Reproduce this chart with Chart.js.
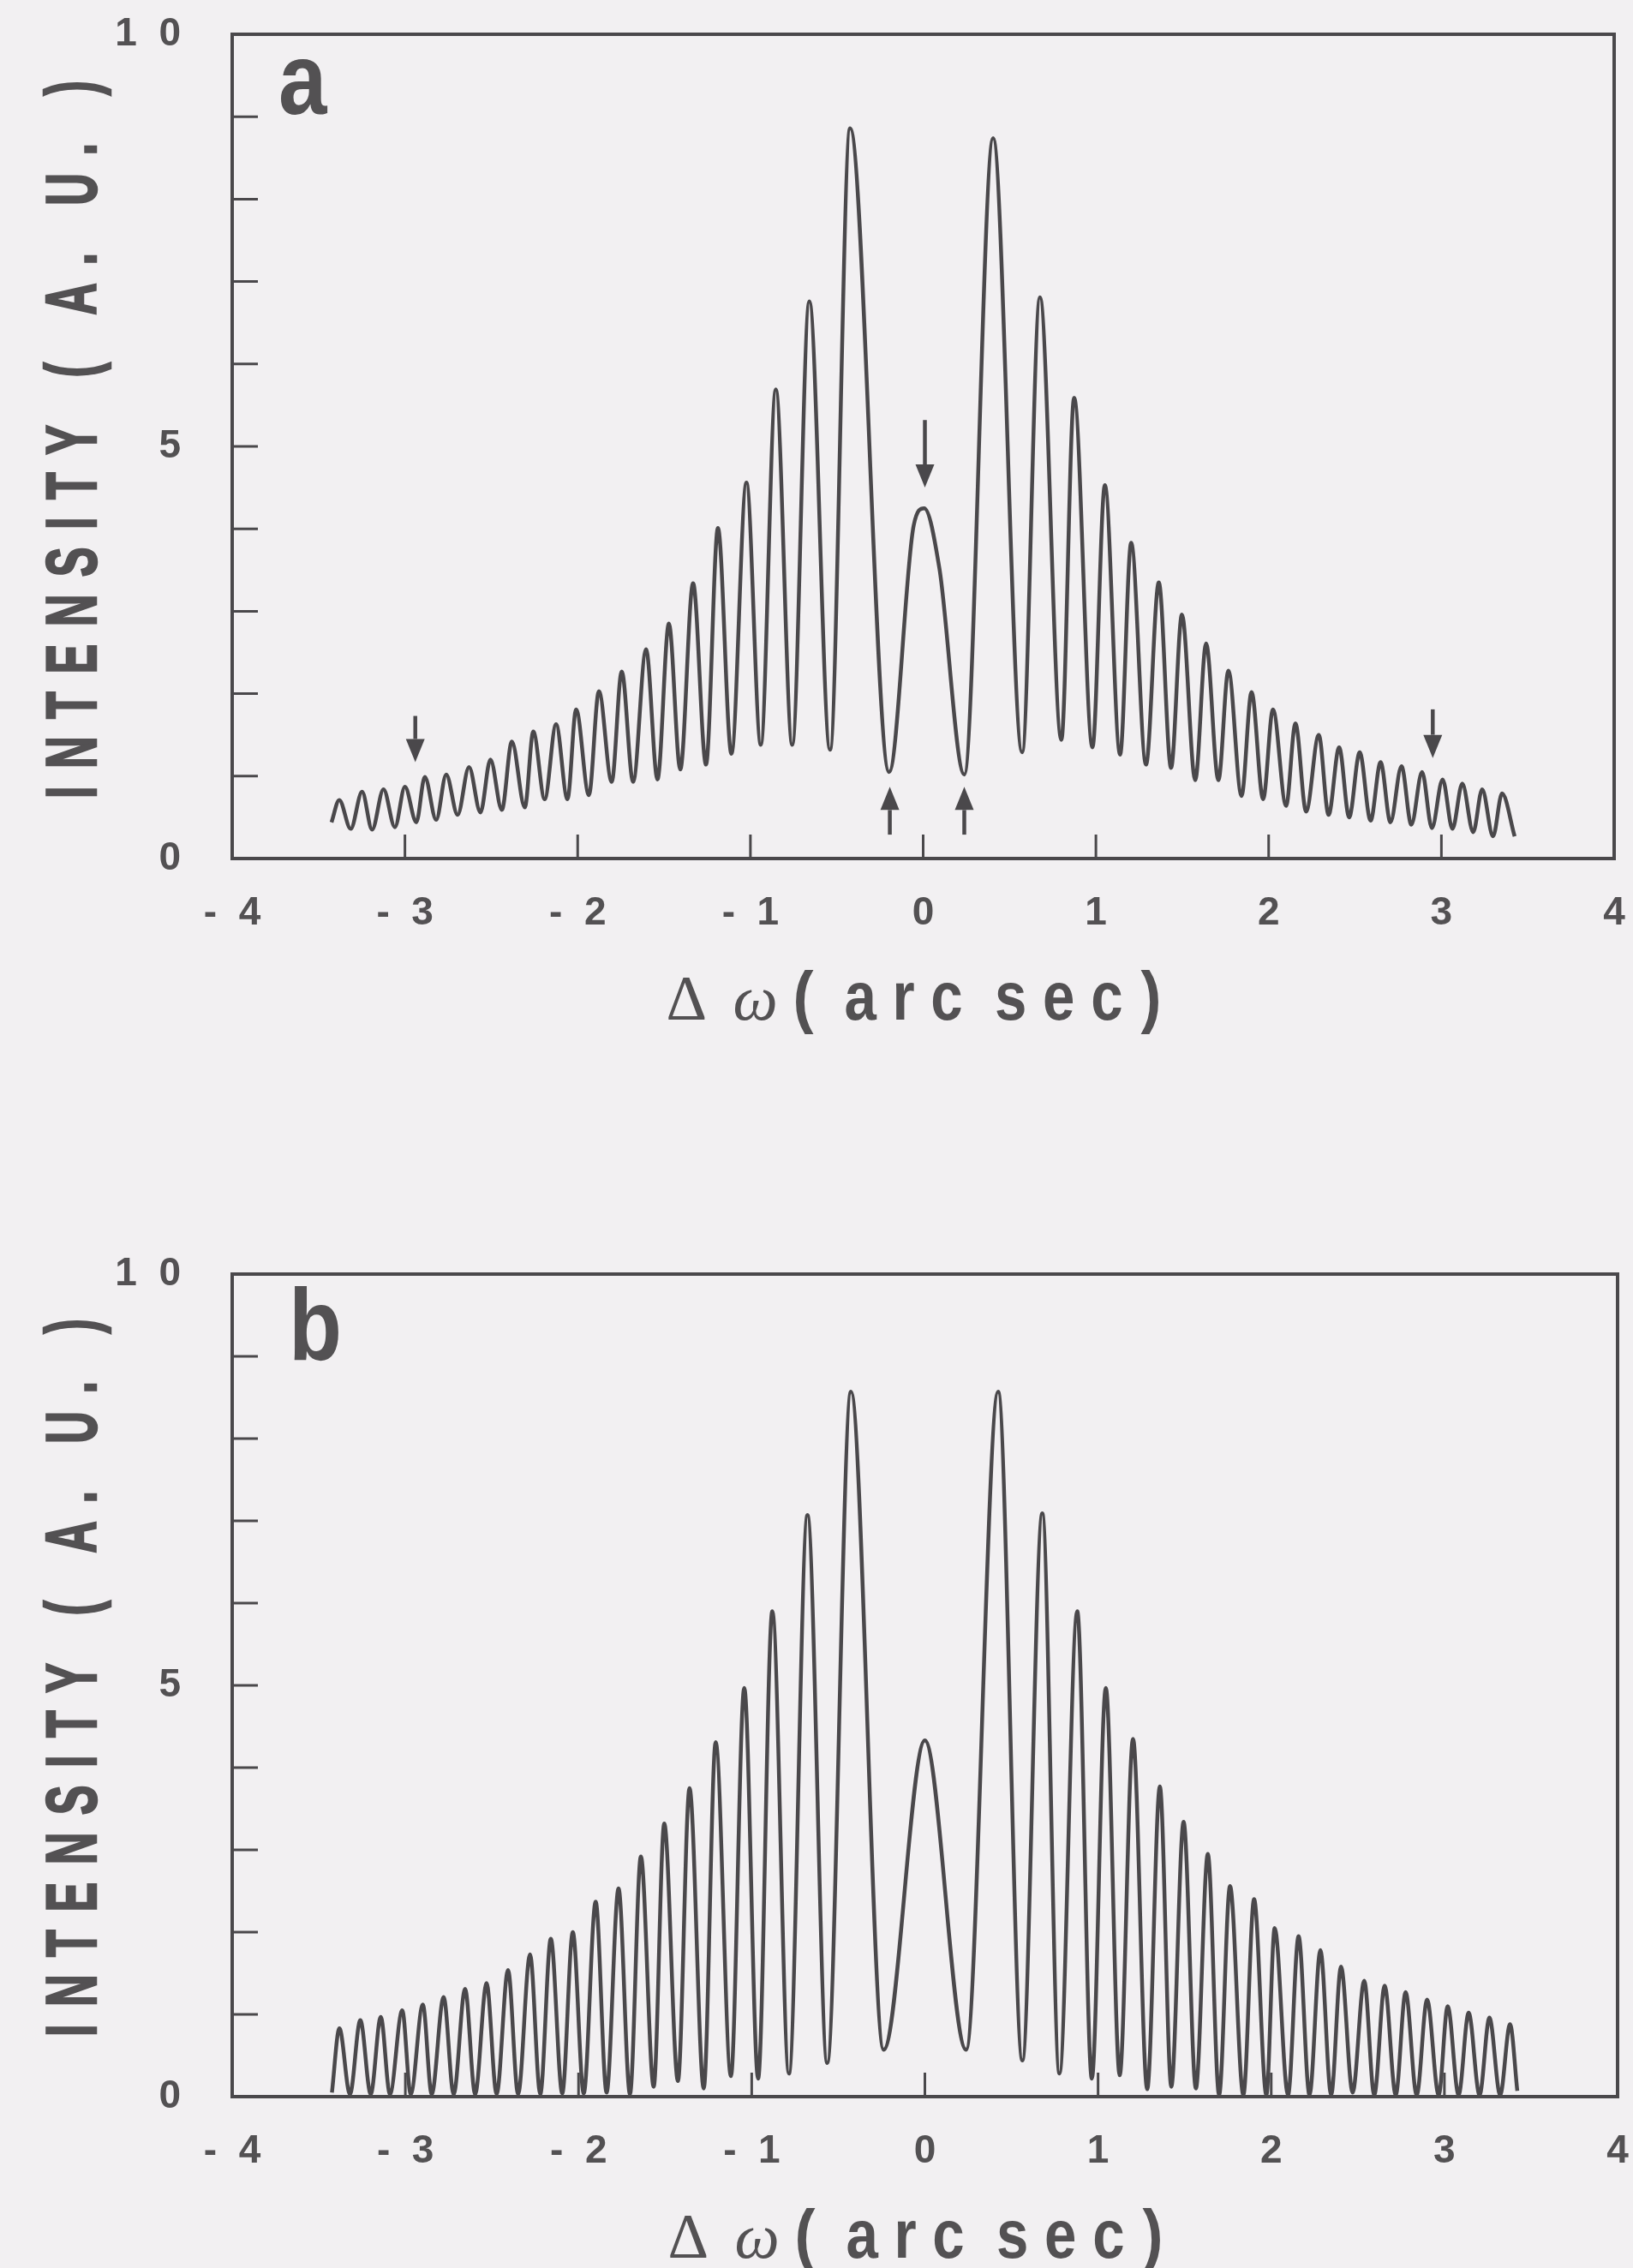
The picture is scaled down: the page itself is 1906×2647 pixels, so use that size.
<!DOCTYPE html>
<html>
<head>
<meta charset="utf-8">
<script src="https://cdn.jsdelivr.net/npm/chart.js@4.4.1/dist/chart.umd.min.js"></script>
<style>
  html, body { margin: 0; padding: 0; background: #f2f0f2; }
  body { width: 1906px; height: 2647px; position: relative; overflow: hidden; }
  .panel { position: absolute; left: 0; width: 1906px; }
  #wrapA { top: 0; height: 1260px; }
  #wrapB { top: 1260px; height: 1387px; }
</style>
</head>
<body>
<div class="panel" id="wrapA"><canvas id="chartA" width="1906" height="1260"></canvas></div>
<div class="panel" id="wrapB"><canvas id="chartB" width="1906" height="1387"></canvas></div>
<script>
// axis ticks
const xTickValues = [-4, -3, -2, -1, 0, 1, 2, 3, 4];
const xTickLabels = ['-  4', '-  3', '-  2', '-  1', '0', '1', '2', '3', '4'];
const yTickValues = [0, 5, 10];
const yTickLabels = ['0', '5', '1  0'];
const xTitleUnit = 'a r c  s e c';
const yTitle = 'INTENSITY ( A. U. )';

// panel a : maxima and minima, left to right
const aX = [-3.425, -3.380, -3.314, -3.248, -3.190, -3.124, -3.058, -3.000, -2.934, -2.885,
  -2.819, -2.761, -2.695, -2.629, -2.563, -2.505, -2.439, -2.381, -2.306, -2.257,
  -2.191, -2.125, -2.059, -2.009, -1.935, -1.877, -1.803, -1.745, -1.679, -1.604,
  -1.538, -1.472, -1.406, -1.332, -1.257, -1.188, -1.110, -1.023, -0.940, -0.853,
  -0.758, -0.659, -0.539, -0.423, -0.197, -0.055, 0.006, 0.094, 0.238, 0.405,
  0.573, 0.676, 0.800, 0.874, 0.980, 1.052, 1.140, 1.204, 1.290, 1.364,
  1.435, 1.498, 1.575, 1.638, 1.709, 1.767, 1.843, 1.901, 1.968, 2.025,
  2.101, 2.155, 2.217, 2.290, 2.347, 2.408, 2.466, 2.527, 2.590, 2.648,
  2.705, 2.769, 2.826, 2.888, 2.945, 3.007, 3.064, 3.121, 3.184, 3.236,
  3.299, 3.351, 3.424];
const aY = [0.44, 0.71, 0.36, 0.81, 0.35, 0.84, 0.38, 0.87, 0.44, 0.99,
  0.47, 1.02, 0.53, 1.11, 0.56, 1.20, 0.59, 1.42, 0.62, 1.54,
  0.72, 1.63, 0.72, 1.81, 0.77, 2.03, 0.93, 2.27, 0.93, 2.54,
  0.96, 2.85, 1.08, 3.34, 1.14, 4.01, 1.27, 4.56, 1.38, 5.69,
  1.38, 6.76, 1.32, 8.86, 1.05, 4.04, 4.25, 3.52, 1.02, 8.74,
  1.29, 6.81, 1.44, 5.59, 1.35, 4.53, 1.26, 3.83, 1.14, 3.35,
  1.10, 2.96, 0.95, 2.61, 0.95, 2.28, 0.76, 2.02, 0.72, 1.81,
  0.64, 1.64, 0.57, 1.50, 0.53, 1.35, 0.50, 1.29, 0.46, 1.17,
  0.44, 1.12, 0.41, 1.05, 0.37, 0.96, 0.36, 0.91, 0.32, 0.84,
  0.27, 0.79, 0.27];

// panel a arrows (x, tail, tip)
const arrowX = [-2.94, 0.01, 2.95, -0.193, 0.238];
const arrowTail = [1.73, 5.32, 1.81, 0.29, 0.29];
const arrowTip = [1.17, 4.50, 1.22, 0.87, 0.87];

// panel b
const bX = [-3.424, -3.381, -3.320, -3.260, -3.200, -3.142, -3.089, -3.018, -2.969, -2.899,
  -2.848, -2.779, -2.721, -2.655, -2.597, -2.531, -2.473, -2.407, -2.349, -2.280,
  -2.221, -2.160, -2.094, -2.033, -1.970, -1.901, -1.838, -1.769, -1.703, -1.640,
  -1.566, -1.505, -1.426, -1.359, -1.277, -1.208, -1.120, -1.043, -0.963, -0.881,
  -0.785, -0.678, -0.564, -0.427, -0.238, 0.000, 0.238, 0.423, 0.563, 0.678,
  0.777, 0.880, 0.964, 1.045, 1.125, 1.202, 1.284, 1.357, 1.423, 1.494,
  1.565, 1.634, 1.699, 1.762, 1.839, 1.901, 1.972, 2.020, 2.097, 2.158,
  2.221, 2.284, 2.346, 2.403, 2.470, 2.537, 2.595, 2.655, 2.719, 2.776,
  2.840, 2.900, 2.967, 3.019, 3.082, 3.140, 3.203, 3.260, 3.322, 3.379,
  3.421];
const bY = [0.05, 0.83, 0.03, 0.93, 0.03, 0.97, 0.03, 1.05, 0.03, 1.12,
  0.03, 1.21, 0.03, 1.31, 0.03, 1.38, 0.03, 1.54, 0.03, 1.73,
  0.03, 1.92, 0.04, 2.00, 0.04, 2.37, 0.05, 2.53, 0.03, 2.92,
  0.12, 3.32, 0.19, 3.75, 0.10, 4.31, 0.25, 4.97, 0.22, 5.90,
  0.28, 7.07, 0.41, 8.57, 0.57, 4.33, 0.57, 8.57, 0.44, 7.09,
  0.28, 5.90, 0.22, 4.97, 0.26, 4.35, 0.09, 3.77, 0.12, 3.34,
  0.10, 2.95, 0.02, 2.56, 0.02, 2.40, 0.02, 2.05, 0.02, 1.95,
  0.02, 1.78, 0.02, 1.58, 0.05, 1.41, 0.02, 1.35, 0.02, 1.27,
  0.02, 1.18, 0.02, 1.10, 0.02, 1.02, 0.02, 0.96, 0.02, 0.88,
  0.07];

const INK = '#4a484b';
const TEXT = '#535153';
const TICK_FONT = { family: '"Liberation Sans", Arial, sans-serif', size: 46, weight: 'bold' };

function drawSpaced(ctx, text, gap, stroke) {
  let pos = 0;
  for (const ch of text) {
    ctx.fillText(ch, pos, 0);
    if (stroke) ctx.strokeText(ch, pos, 0);
    pos += ctx.measureText(ch).width + gap;
  }
}

// frame, inward ticks, titles, panel letter, arrows
const figureDecor = {
  id: 'figureDecor',
  afterDraw(chart, args, opts) {
    const { ctx, chartArea: ca, scales: { x, y } } = chart;
    ctx.save();
    ctx.strokeStyle = INK;
    ctx.fillStyle = INK;
    ctx.lineWidth = 4;
    ctx.strokeRect(ca.left, ca.top, ca.right - ca.left, ca.bottom - ca.top);

    ctx.lineWidth = 3;
    ctx.beginPath();
    x.ticks.forEach(t => {
      if (t.value > x.min && t.value < x.max) {
        const px = x.getPixelForValue(t.value);
        ctx.moveTo(px, ca.bottom);
        ctx.lineTo(px, ca.bottom - 28);
      }
    });
    y.ticks.forEach(t => {
      if (t.value > y.min && t.value < y.max) {
        const py = y.getPixelForValue(t.value);
        ctx.moveTo(ca.left, py);
        ctx.lineTo(ca.left + 30, py);
      }
    });
    ctx.stroke();

    if (opts.arrows) {
      for (let i = 0; i < arrowX.length; i++) {
        const px = x.getPixelForValue(arrowX[i]);
        const p0 = y.getPixelForValue(arrowTail[i]);
        const p1 = y.getPixelForValue(arrowTip[i]);
        const dir = p1 > p0 ? 1 : -1;
        const head = 27, half = 11;
        ctx.lineWidth = 4.5;
        ctx.beginPath();
        ctx.moveTo(px, p0);
        ctx.lineTo(px, p1 - dir * head);
        ctx.stroke();
        ctx.beginPath();
        ctx.moveTo(px, p1);
        ctx.lineTo(px - half, p1 - dir * head);
        ctx.lineTo(px + half, p1 - dir * head);
        ctx.closePath();
        ctx.fill();
      }
    }

    ctx.fillStyle = TEXT;
    ctx.strokeStyle = TEXT;
    ctx.textAlign = 'left';
    ctx.textBaseline = 'alphabetic';

    // panel letter
    ctx.save();
    ctx.translate(ca.left + opts.letterDx, ca.top + opts.letterDy);
    ctx.scale(0.86, 1);
    ctx.font = 'bold 118px "Liberation Sans", Arial, sans-serif';
    ctx.fillText(opts.letter, 0, 0);
    ctx.restore();

    // y title
    ctx.save();
    ctx.translate(ca.left - 159, ca.bottom - 70);
    ctx.rotate(-Math.PI / 2);
    ctx.scale(0.62, 1);
    ctx.font = 'bold 84px "Liberation Sans", Arial, sans-serif';
    ctx.lineWidth = 2.5;
    drawSpaced(ctx, yTitle, 20.5 / 0.62, true);
    ctx.restore();

    // x title : Δω ( a r c  s e c )
    const cx = (ca.left + ca.right) / 2;
    const base = ca.bottom + 188;
    ctx.font = '74px "Liberation Serif", "DejaVu Serif", serif';
    ctx.fillText('Δ', cx - 300, base);
    ctx.font = 'italic 74px "Liberation Serif", "DejaVu Serif", serif';
    ctx.fillText('ω', cx - 222, base);
    ctx.font = 'bold 80px "Liberation Sans", Arial, sans-serif';
    ctx.save();
    ctx.translate(cx - 152, base);
    ctx.scale(0.9, 1);
    ctx.fillText('(', 0, 0);
    ctx.restore();
    ctx.save();
    ctx.translate(cx - 92, base);
    ctx.scale(0.84, 1);
    ctx.fillText(xTitleUnit, 0, 0);
    ctx.restore();
    ctx.save();
    ctx.translate(cx + 254, base);
    ctx.scale(0.9, 1);
    ctx.fillText(')', 0, 0);
    ctx.restore();

    ctx.restore();
  }
};

function makeChart(id, xs, ys, deco) {
  const canvas = document.getElementById(id);
  return new Chart(canvas, {
    type: 'line',
    data: {
      datasets: [{
        data: xs.map((v, i) => ({ x: v, y: ys[i] })),
        borderColor: INK,
        borderWidth: deco.lineWidth,
        pointRadius: 0,
        cubicInterpolationMode: 'monotone',
        fill: false
      }]
    },
    options: {
      responsive: false,
      animation: false,
      devicePixelRatio: 1,
      layout: { padding: { top: deco.top, right: 1906 - deco.right, left: 0, bottom: 0 } },
      plugins: {
        legend: { display: false },
        tooltip: { enabled: false },
        figureDecor: deco
      },
      scales: {
        x: {
          type: 'linear',
          min: -4,
          max: 4,
          grid: { display: false, drawTicks: false },
          border: { display: false },
          ticks: {
            stepSize: 1,
            autoSkip: false,
            maxRotation: 0,
            padding: 37,
            color: TEXT,
            font: TICK_FONT,
            callback: v => {
              const i = xTickValues.indexOf(v);
              return i >= 0 ? xTickLabels[i] : '';
            }
          },
          // pin the plot box: no extra side padding from the edge labels
          afterFit: s => { s.height = canvas.height - deco.bottom; s.paddingLeft = 0; s.paddingRight = 0; }
        },
        y: {
          type: 'linear',
          min: 0,
          max: 10,
          grid: { display: false, drawTicks: false },
          border: { display: false },
          ticks: {
            stepSize: 1,
            autoSkip: false,
            padding: 60,
            color: TEXT,
            font: TICK_FONT,
            callback: v => {
              const i = yTickValues.indexOf(v);
              return i >= 0 ? yTickLabels[i] : '';
            }
          },
          afterFit: s => { s.width = deco.left; s.paddingTop = 0; s.paddingBottom = 0; }
        }
      }
    },
    plugins: [figureDecor]
  });
}

makeChart('chartA', aX, aY, {
  left: 271, right: 1884, top: 40, bottom: 1002,
  lineWidth: 4.5, letter: 'a', letterDx: 54, letterDy: 93, arrows: true
});
makeChart('chartB', bX, bY, {
  left: 271, right: 1888, top: 227, bottom: 1187,
  lineWidth: 4.5, letter: 'b', letterDx: 66, letterDy: 100, arrows: false
});
</script>
</body>
</html>
